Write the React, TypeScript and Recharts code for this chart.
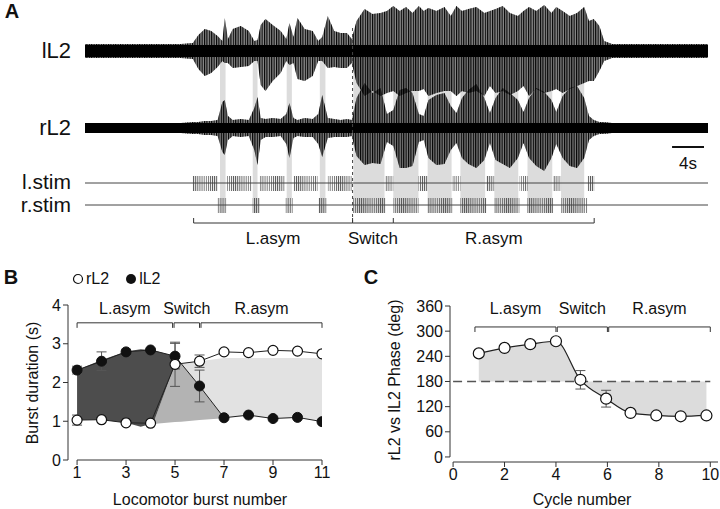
import {
  ComposedChart,
  Area,
  Line,
  XAxis,
  YAxis,
  ErrorBar,
  ReferenceArea,
  ReferenceLine,
  ReferenceDot,
} from "recharts";

const FONT = '"Liberation Sans", Arial, Helvetica, sans-serif';

// ---------- Panel A: raw recordings (time in s, envelope amplitudes in a.u.) ----------
const TRACE_TIME = [
  0, 4, 8, 12, 13.5, 14.2, 15, 15.8, 16.6, 17.2, 17.5, 17.9, 18.5, 19.5, 20.5, 21.2, 21.6, 22, 22.6,
  23.5, 24.5, 25.2, 25.6, 26.1, 26.6, 27.5, 28.5, 29.2, 29.7, 30.4, 31.2, 32, 32.8, 33.4, 34, 35, 36,
  37, 37.8, 38.6, 39.4, 40.2, 41, 41.8, 42.4, 43, 44, 45, 45.8, 46.5, 47.2, 48, 49, 50, 50.7, 51.4,
  52.3, 53.2, 54.2, 54.9, 55.6, 56.5, 57.5, 58.4, 59, 59.8, 60.7, 61.6, 62.5, 63.1, 63.7, 64.4, 65,
  66, 70, 74, 78,
];
const LL2_UP = [
  7, 7, 7, 7, 8, 16, 22, 20, 15, 10, 33, 12, 22, 25, 20, 10, 11, 26, 32, 26, 20, 12, 28, 14, 33, 22,
  20, 10, 14, 35, 20, 18, 18, 12, 30, 42, 37, 38, 40, 45, 40, 44, 38, 45, 40, 43, 40, 44, 35, 45, 40,
  42, 44, 38, 40, 42, 45, 38, 35, 40, 44, 40, 46, 38, 44, 40, 35, 38, 44, 30, 32, 25, 10, 7, 7, 7, 7,
];
const LL2_DOWN = [
  7, 7, 7, 7, 8, 18, 25, 22, 16, 10, 12, 12, 17, 16, 15, 10, 10, 34, 40, 30, 22, 10, 14, 12, 28, 30,
  25, 10, 10, 17, 16, 17, 17, 12, 32, 45, 40, 45, 42, 40, 45, 42, 40, 40, 38, 45, 42, 40, 40, 45, 40,
  42, 40, 45, 35, 42, 40, 44, 40, 35, 45, 38, 42, 40, 38, 42, 38, 35, 32, 30, 30, 20, 10, 7, 7, 7, 7,
];
const RL2_UP = [
  5, 5, 5, 5, 6, 6, 7, 7, 8, 26, 28, 12, 8, 9, 8, 20, 31, 10, 9, 10, 9, 14, 25, 10, 8, 10, 9, 14, 33,
  10, 9, 8, 9, 8, 30, 45, 35, 40, 14, 18, 38, 40, 35, 14, 12, 28, 33, 35, 22, 15, 30, 38, 44, 30, 15,
  30, 40, 35, 28, 16, 30, 40, 36, 28, 16, 32, 40, 42, 30, 12, 8, 6, 6, 5, 5, 5, 5,
];
const RL2_DOWN = [
  5, 5, 5, 5, 6, 6, 7, 7, 8, 24, 27, 12, 8, 9, 8, 22, 37, 12, 9, 9, 8, 16, 30, 10, 8, 9, 9, 16, 29,
  10, 9, 9, 9, 8, 28, 37, 35, 36, 14, 18, 40, 40, 38, 14, 12, 30, 37, 36, 22, 15, 30, 36, 40, 32, 15,
  32, 36, 40, 30, 15, 30, 38, 43, 30, 16, 30, 38, 40, 30, 12, 8, 6, 6, 5, 5, 5, 5,
];
const L_STIM_TRAINS = [
  [13.5, 16.6], [17.75, 20.9], [21.9, 25], [26.1, 29.1], [30.4, 33.4],
  [37.6, 38.6], [41.75, 42.9], [46, 47], [50.25, 51.25], [54.4, 55.4], [58.6, 59.6], [62.9, 63.75],
];
const R_STIM_TRAINS = [
  [16.6, 17.75], [21, 21.9], [25.1, 26], [29.25, 30.25],
  [33.5, 37.6], [38.6, 41.75], [42.9, 46], [47, 50.25], [51.25, 54.4], [55.4, 58.6], [59.6, 62.9],
];
const RL2_BURSTS = [
  [16.9, 17.6], [21, 21.6], [25.25, 25.9], [29.4, 30.1],
  [33.6, 37.5], [38.6, 41.75], [42.9, 45.9], [47, 50.1], [51.25, 54.25], [55.4, 58.5], [59.6, 62.5],
];
const SWITCH_TIME = 33.5;
const EPOCHS_A = [
  { label: "L.asym", from: 13.6, to: 33.5 },
  { label: "Switch", from: 33.5, to: 38.6 },
  { label: "R.asym", from: 38.6, to: 63.75 },
];

// ---------- Panel B: burst durations ----------
const BURST_NUMBER = [1, 2, 3, 4, 5, 6, 7, 8, 9, 10, 11];
const RL2_DURATION = [1.03, 1.04, 0.96, 0.95, 2.47, 2.55, 2.79, 2.77, 2.83, 2.81, 2.74];
const RL2_DURATION_SEM = [0.13, null, null, null, 0.57, 0.16, null, null, null, null, null];
const LL2_DURATION = [2.32, 2.55, 2.79, 2.84, 2.68, 1.91, 1.09, 1.16, 1.07, 1.1, 0.99];
const LL2_DURATION_SEM = [0.1, 0.24, null, null, 0.33, 0.41, null, null, null, null, null];
// shaded regions: [x, low, high]
const DARK_REGION = [
  [1, 1.03, 2.32], [2, 1.04, 2.58], [3, 0.96, 2.8], [3.6, 0.86, 2.86], [4, 0.93, 2.84],
  [4.1, 0.93, 2.83], [5, 2.47, 2.68], [5.25, 2.49, 2.49],
];
const MID_REGION = [
  [4.1, 0.93, 0.93], [5, 0.98, 2.47], [5.25, 0.99, 2.49], [6, 1.03, 1.91], [7, 1.08, 1.09],
];
const LIGHT_REGION = [
  [5.25, 2.49, 2.49], [6, 1.91, 2.55], [7, 1.09, 2.63], [8, 1.12, 2.63], [9, 1.07, 2.63],
  [10, 1.08, 2.63], [11, 1.02, 2.63],
];
const EPOCHS_B = [
  { label: "L.asym", from: 1, to: 4.9 },
  { label: "Switch", from: 4.96, to: 6 },
  { label: "R.asym", from: 6.06, to: 11 },
];

// ---------- Panel C: phase ----------
const CYCLE = [1, 2, 3, 4, 4.95, 5.95, 6.9, 7.9, 8.85, 9.85];
const PHASE = [247, 260, 269, 276, 184, 139, 105, 99, 97, 99];
const PHASE_SEM = [null, null, null, null, 22, 20, null, null, null, null];
const EPOCHS_C = [
  { label: "L.asym", from: 0.85, to: 4 },
  { label: "Switch", from: 4.05, to: 6 },
  { label: "R.asym", from: 6.05, to: 10 },
];

// layout rows of panel A (vertical lanes, px from top)
const LL2_ROW = 51;
const RL2_ROW = 128;

const traceRows = TRACE_TIME.map((t, i) => ({
  t,
  lL2: [LL2_ROW - LL2_UP[i], LL2_ROW + LL2_DOWN[i]],
  rL2: [RL2_ROW - RL2_UP[i], RL2_ROW + RL2_DOWN[i]],
}));

const regionX = Array.from(
  new Set([...BURST_NUMBER, ...DARK_REGION.map((r) => r[0]), ...MID_REGION.map((r) => r[0]), ...LIGHT_REGION.map((r) => r[0])])
).sort((a, b) => a - b);

const findRange = (rows: number[][], x: number) => {
  const r = rows.find((d) => d[0] === x);
  return r ? [r[1], r[2]] : null;
};

const burstRows = regionX.map((x) => {
  const i = BURST_NUMBER.indexOf(x);
  return {
    x,
    rL2: i >= 0 ? RL2_DURATION[i] : null,
    rErr: i >= 0 ? RL2_DURATION_SEM[i] : null,
    lL2: i >= 0 ? LL2_DURATION[i] : null,
    lErr: i >= 0 ? LL2_DURATION_SEM[i] : null,
    dark: findRange(DARK_REGION, x),
    mid: findRange(MID_REGION, x),
    light: findRange(LIGHT_REGION, x),
  };
});

const phaseRows = CYCLE.map((c, i) => ({
  c,
  phase: PHASE[i],
  err: PHASE_SEM[i],
  band: [180, PHASE[i]],
}));

const tickStyle = { fontSize: 16, fill: "#111", fontFamily: FONT };

function Txt({ x, y, children, size = 16, bold = false, rotate = 0, align = "center" }: any) {
  const tx = align === "right" ? "-100%" : "-50%";
  return (
    <div
      style={{
        position: "absolute",
        left: x,
        top: y,
        transform: `translate(${tx}, -50%) rotate(${rotate}deg)`,
        fontSize: size,
        fontWeight: bold ? "bold" : "normal",
        whiteSpace: "nowrap",
        lineHeight: 1,
        color: "#111",
      }}
    >
      {children}
    </div>
  );
}

const bracketLabel = (value: string, size = 16) => ({
  value,
  position: "center" as const,
  fontSize: size,
  fill: "#111",
  fontFamily: FONT,
});

export default function App() {
  return (
    <div style={{ position: "relative", width: 720, height: 509, background: "#fff", fontFamily: FONT, overflow: "hidden" }}>
      <style>{`body{margin:0}`}</style>
      <svg width={0} height={0} style={{ position: "absolute" }}>
        <defs>
          <pattern id="stimPulses" patternUnits="userSpaceOnUse" width={2.1} height={20}>
            <rect x={0} y={0} width={0.9} height={20} fill="#555" />
          </pattern>
          <pattern id="spikes" patternUnits="userSpaceOnUse" width={2.4} height={40}>
            <rect x={0} y={0} width={1.1} height={40} fill="#000" />
          </pattern>
        </defs>
      </svg>

      {/* Panel A */}
      <div style={{ position: "absolute", left: 0, top: 0 }}>
        <ComposedChart width={720} height={250} data={traceRows} margin={{ top: 0, right: 12, bottom: 0, left: 85 }}>
          <XAxis type="number" dataKey="t" domain={[0, 78]} hide />
          <YAxis type="number" domain={[0, 250]} reversed hide />
          {RL2_BURSTS.map(([a, b], i) => (
            <ReferenceArea key={`b${i}`} x1={a} x2={b} y1={LL2_ROW} y2={213} fill="#dcdcdc" fillOpacity={1} stroke="none" />
          ))}
          <ReferenceLine y={183} stroke="#444" strokeWidth={1} />
          <ReferenceLine y={205} stroke="#444" strokeWidth={1} />
          {L_STIM_TRAINS.map(([a, b], i) => (
            <ReferenceArea key={`l${i}`} x1={a} x2={b} y1={176} y2={191} fill="url(#stimPulses)" fillOpacity={1} stroke="none" />
          ))}
          {R_STIM_TRAINS.map(([a, b], i) => (
            <ReferenceArea key={`r${i}`} x1={a} x2={b} y1={198} y2={213} fill="url(#stimPulses)" fillOpacity={1} stroke="none" />
          ))}
          <ReferenceLine
            segment={[{ x: SWITCH_TIME, y: 28 }, { x: SWITCH_TIME, y: 222 }]}
            stroke="#444"
            strokeDasharray="3 3"
          />
          <Area type="linear" dataKey="lL2" fill="#000" fillOpacity={0.45} stroke="none" isAnimationActive={false} dot={false} activeDot={false} />
          <Area type="linear" dataKey="lL2" fill="url(#spikes)" fillOpacity={1} stroke="none" isAnimationActive={false} dot={false} activeDot={false} />
          <Area type="linear" dataKey="rL2" fill="#000" fillOpacity={0.45} stroke="none" isAnimationActive={false} dot={false} activeDot={false} />
          <Area type="linear" dataKey="rL2" fill="url(#spikes)" fillOpacity={1} stroke="none" isAnimationActive={false} dot={false} activeDot={false} />
          <ReferenceArea x1={0} x2={78} y1={LL2_ROW - 6} y2={LL2_ROW + 6} fill="#000" fillOpacity={1} stroke="none" />
          <ReferenceArea x1={0} x2={78} y1={RL2_ROW - 5} y2={RL2_ROW + 5} fill="#000" fillOpacity={1} stroke="none" />
          {EPOCHS_A.map((e, i) => (
            <ReferenceLine key={`ea${i}`} segment={[{ x: e.from, y: 223 }, { x: e.to, y: 223 }]} stroke="#333" />
          ))}
          {[13.6, 33.5, 38.6, 63.75].map((x, i) => (
            <ReferenceLine key={`ta${i}`} segment={[{ x, y: 218 }, { x, y: 223 }]} stroke="#333" />
          ))}
          {EPOCHS_A.map((e, i) => (
            <ReferenceDot key={`la${i}`} x={(e.from + e.to) / 2} y={238} r={0} stroke="none" label={bracketLabel(e.label, 17)} />
          ))}
          <ReferenceLine segment={[{ x: 73.5, y: 147 }, { x: 77.5, y: 147 }]} stroke="#111" strokeWidth={2} />
          <ReferenceDot x={75.5} y={163} r={0} stroke="none" label={bracketLabel("4s", 17)} />
        </ComposedChart>
      </div>
      <Txt x={12} y={11} size={20} bold>A</Txt>
      <Txt x={71} y={51} size={22} align="right">lL2</Txt>
      <Txt x={71} y={128} size={22} align="right">rL2</Txt>
      <Txt x={71} y={181} size={21} align="right">l.stim</Txt>
      <Txt x={71} y={204} size={21} align="right">r.stim</Txt>

      {/* Panel B */}
      <div style={{ position: "absolute", left: 0, top: 280 }}>
        <ComposedChart width={340} height={229} data={burstRows} margin={{ top: 25, right: 18, bottom: 19, left: 28 }}>
          <XAxis
            type="number"
            dataKey="x"
            domain={[0.63, 11]}
            ticks={[1, 3, 5, 7, 9, 11]}
            axisLine={false}
            tickSize={5}
            tickLine={{ stroke: "#333" }}
            tick={tickStyle}
            height={30}
            allowDataOverflow
          />
          <YAxis
            type="number"
            domain={[0, 4]}
            ticks={[0, 1, 2, 3, 4]}
            width={40}
            tickSize={5}
            axisLine={{ stroke: "#333" }}
            tickLine={{ stroke: "#333" }}
            tick={tickStyle}
          />
          <ReferenceLine segment={[{ x: 1, y: 0 }, { x: 11, y: 0 }]} stroke="#333" />
          <Area type="linear" dataKey="light" fill="#e2e2e2" fillOpacity={1} stroke="none" isAnimationActive={false} dot={false} activeDot={false} />
          <Area type="linear" dataKey="mid" fill="#b3b3b3" fillOpacity={1} stroke="none" isAnimationActive={false} dot={false} activeDot={false} />
          <Area type="linear" dataKey="dark" fill="#4d4d4d" fillOpacity={1} stroke="none" isAnimationActive={false} dot={false} activeDot={false} />
          {EPOCHS_B.map((e, i) => (
            <ReferenceLine key={`eb${i}`} segment={[{ x: e.from, y: 3.54 }, { x: e.to, y: 3.54 }]} stroke="#333" />
          ))}
          {EPOCHS_B.flatMap((e, i) => [
            <ReferenceLine key={`tb${i}a`} segment={[{ x: e.from, y: 3.41 }, { x: e.from, y: 3.54 }]} stroke="#333" />,
            <ReferenceLine key={`tb${i}b`} segment={[{ x: e.to, y: 3.41 }, { x: e.to, y: 3.54 }]} stroke="#333" />,
          ])}
          {EPOCHS_B.map((e, i) => (
            <ReferenceDot key={`lb${i}`} x={(e.from + e.to) / 2} y={3.92} r={0} stroke="none" label={bracketLabel(e.label)} />
          ))}
          <Line
            type="linear"
            dataKey="lL2"
            stroke="#222"
            strokeWidth={1}
            connectNulls
            isAnimationActive={false}
            dot={{ r: 5, fill: "#111", stroke: "#111", strokeWidth: 1 }}
            activeDot={false}
          >
            <ErrorBar dataKey="lErr" width={5} stroke="#555" strokeWidth={1} />
          </Line>
          <Line
            type="linear"
            dataKey="rL2"
            stroke="#222"
            strokeWidth={1}
            connectNulls
            isAnimationActive={false}
            dot={{ r: 5, fill: "#fff", stroke: "#111", strokeWidth: 1.2 }}
            activeDot={false}
          >
            <ErrorBar dataKey="rErr" width={5} stroke="#555" strokeWidth={1} />
          </Line>
        </ComposedChart>
      </div>
      <Txt x={11} y={277} size={20} bold>B</Txt>
      <div style={{ position: "absolute", left: 72, top: 270, display: "flex", alignItems: "center", fontSize: 16, color: "#111" }}>
        <svg width={12} height={12}><circle cx={6} cy={6} r={4.5} fill="#fff" stroke="#111" strokeWidth={1.2} /></svg>
        <span style={{ marginLeft: 2 }}>rL2</span>
        <svg width={12} height={12} style={{ marginLeft: 16 }}><circle cx={6} cy={6} r={5} fill="#111" /></svg>
        <span style={{ marginLeft: 2 }}>lL2</span>
      </div>
      <Txt x={33} y={383} rotate={-90}>Burst duration (s)</Txt>
      <Txt x={200} y={500}>Locomotor burst number</Txt>

      {/* Panel C */}
      <div style={{ position: "absolute", left: 360, top: 280 }}>
        <ComposedChart width={360} height={229} data={phaseRows} margin={{ top: 26, right: 2, bottom: 17, left: 45 }}>
          <XAxis
            type="number"
            dataKey="c"
            domain={[-0.12, 10.3]}
            ticks={[0, 2, 4, 6, 8, 10]}
            axisLine={false}
            tickSize={5}
            tickLine={{ stroke: "#333" }}
            tick={tickStyle}
            height={30}
            allowDataOverflow
          />
          <YAxis
            type="number"
            domain={[-12, 360]}
            ticks={[0, 60, 120, 180, 240, 300, 360]}
            width={45}
            tickSize={5}
            axisLine={false}
            tickLine={{ stroke: "#333" }}
            tick={tickStyle}
            allowDataOverflow
          />
          <ReferenceLine segment={[{ x: 0, y: -12 }, { x: 10.3, y: -12 }]} stroke="#333" />
          <ReferenceLine segment={[{ x: -0.12, y: 0 }, { x: -0.12, y: 360 }]} stroke="#333" />
          <Area type="monotone" dataKey="band" fill="#dcdcdc" fillOpacity={1} stroke="none" isAnimationActive={false} dot={false} activeDot={false} />
          <ReferenceLine segment={[{ x: 0, y: 180 }, { x: 10, y: 180 }]} stroke="#555" strokeWidth={1.5} strokeDasharray="9 5" />
          {EPOCHS_C.map((e, i) => (
            <ReferenceLine key={`ec${i}`} segment={[{ x: e.from, y: 310 }, { x: e.to, y: 310 }]} stroke="#333" />
          ))}
          {EPOCHS_C.flatMap((e, i) => [
            <ReferenceLine key={`tc${i}a`} segment={[{ x: e.from, y: 298 }, { x: e.from, y: 310 }]} stroke="#333" />,
            <ReferenceLine key={`tc${i}b`} segment={[{ x: e.to, y: 298 }, { x: e.to, y: 310 }]} stroke="#333" />,
          ])}
          {EPOCHS_C.map((e, i) => (
            <ReferenceDot key={`lc${i}`} x={(e.from + e.to) / 2} y={354} r={0} stroke="none" label={bracketLabel(e.label)} />
          ))}
          <Line
            type="monotone"
            dataKey="phase"
            stroke="#222"
            strokeWidth={1.2}
            isAnimationActive={false}
            dot={{ r: 5.5, fill: "#fff", stroke: "#111", strokeWidth: 1.2 }}
            activeDot={false}
          >
            <ErrorBar dataKey="err" width={5} stroke="#555" strokeWidth={1} />
          </Line>
        </ComposedChart>
      </div>
      <Txt x={371} y={277} size={20} bold>C</Txt>
      <Txt x={395} y={380} rotate={-90}>rL2 vs lL2 Phase (deg)</Txt>
      <Txt x={582} y={500}>Cycle number</Txt>
    </div>
  );
}
